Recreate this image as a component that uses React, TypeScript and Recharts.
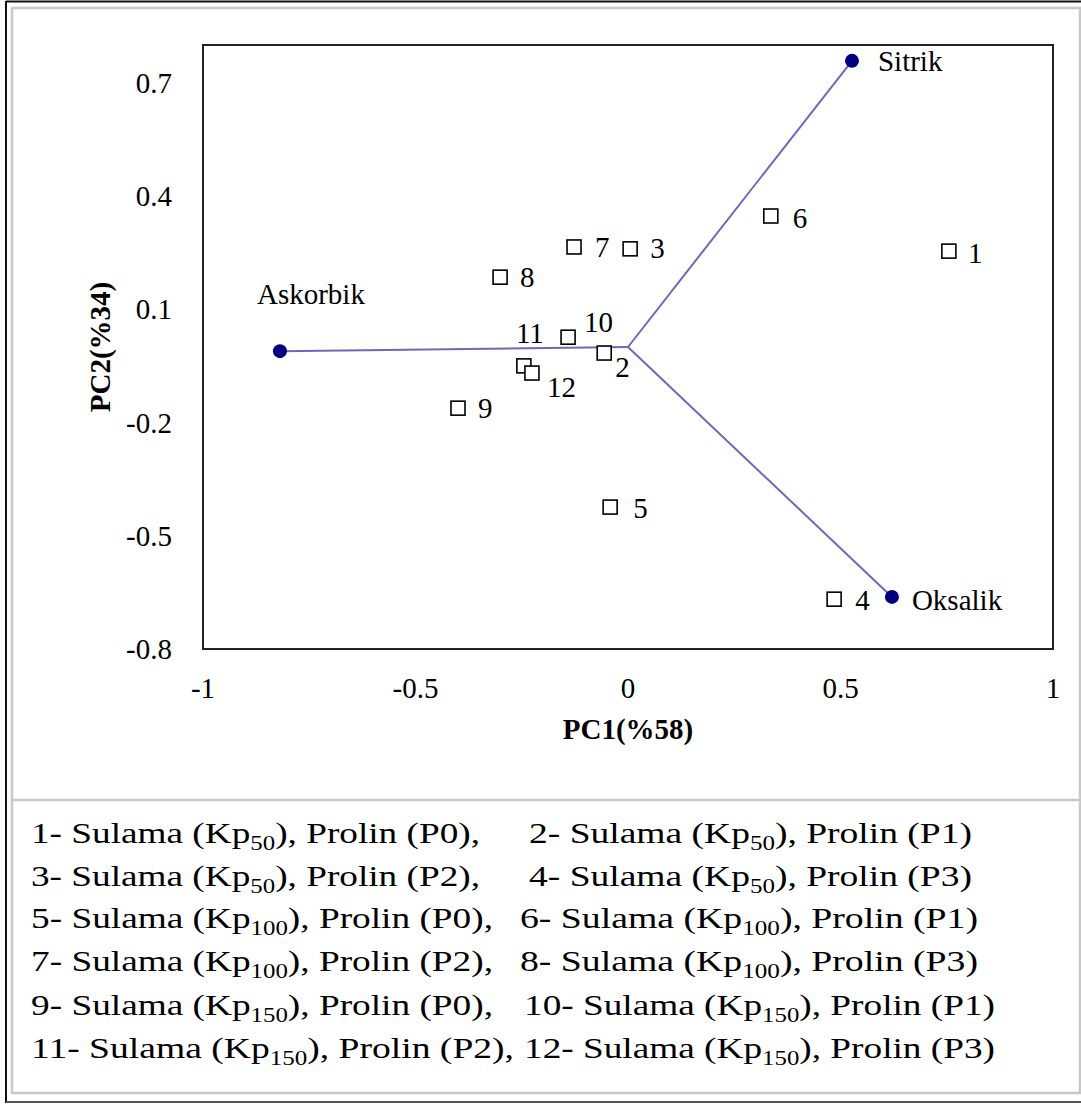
import React from 'react';
import { ScatterChart, Scatter, XAxis, YAxis, ReferenceArea } from 'recharts';

// ---- data ----
const treatmentLabels = ['1', '2', '3', '4', '5', '6', '7', '8', '9', '10', '11', '12'];
const pc1Scores = [0.755, -0.056, 0.005, 0.485, -0.042, 0.336, -0.127, -0.301, -0.4, -0.141, -0.245, -0.226];
const pc2Scores = [0.254, -0.016, 0.26, -0.668, -0.424, 0.347, 0.265, 0.185, -0.162, 0.026, -0.05, -0.069];

const variableNames = ['Sitrik', 'Askorbik', 'Oksalik'];
const variablePC1 = [0.527, -0.819, 0.621];
const variablePC2 = [0.758, -0.011, -0.662];

const xTicks = [-1, -0.5, 0, 0.5, 1];
const yTicks = [-0.8, -0.5, -0.2, 0.1, 0.4, 0.7];

const legendIds = ['1', '2', '3', '4', '5', '6', '7', '8', '9', '10', '11', '12'];
const legendDoses = ['50', '50', '50', '50', '100', '100', '100', '100', '150', '150', '150', '150'];
const legendProlin = ['P0', 'P1', 'P2', 'P3', 'P0', 'P1', 'P2', 'P3', 'P0', 'P1', 'P2', 'P3'];

// ---- derived tables ----
const treatments = treatmentLabels.map((label, i) => ({ label, x: pc1Scores[i], y: pc2Scores[i] }));
const variables = variableNames.map((name, i) => ({ label: name, x: variablePC1[i], y: variablePC2[i] }));

// ---- styling / label placement (relative offsets) ----
const FONT = 'Liberation Serif, Times New Roman, serif';
const TXT: React.CSSProperties = { fontFamily: FONT };
const LINE_COLOR = '#6a6ab8';
const POINT_COLOR = '#00007f';

const treatmentLabelOffset: Record<string, [number, number]> = {
  '1': [19, 2], '2': [11, 14], '3': [20, -1], '4': [21, 1], '5': [23, 1], '6': [22, 2],
  '7': [21, 0], '8': [20, 0], '9': [20, 0], '10': [16, -15], '11': [-8, -33], '12': [15, 14],
};
const variableLabelOffset: Record<string, [number, number, string]> = {
  Sitrik: [26, 0, 'start'],
  Askorbik: [31, -57, 'middle'],
  Oksalik: [20, 3, 'start'],
};

const legendRowBaselines = [843, 886, 928, 971, 1015, 1058];
const legendLeftStart = 31;
const legendLeftEnds = [480, 480, 493, 493, 493, 514];
const legendRightStarts = [529, 529, 520, 520, 524, 524];
const legendRightEnds = [972, 972, 978, 978, 995, 995];

const SquareShape = (props: any) => {
  const { cx, cy, payload } = props;
  if (cx == null || cy == null) return <g />;
  const off = treatmentLabelOffset[payload.label] || [18, 0];
  return (
    <g>
      <rect x={cx - 7} y={cy - 7} width={14} height={14} fill="#fff" stroke="#000" strokeWidth={1.6} />
      <text x={cx + off[0]} y={cy + off[1] + 10} style={TXT} fontSize={29} fill="#000">
        {payload.label}
      </text>
    </g>
  );
};

const CircleShape = (props: any) => {
  const { cx, cy, payload } = props;
  if (cx == null || cy == null) return <g />;
  const off = variableLabelOffset[payload.label] || [20, 0, 'start'];
  return (
    <g>
      <circle cx={cx} cy={cy} r={7} fill={POINT_COLOR} />
      <text x={cx + off[0]} y={cy + off[1] + 10} textAnchor={off[2] as any} style={TXT} fontSize={29} fill="#000">
        {payload.label}
      </text>
    </g>
  );
};

const NoShape = () => <g />;

const XTick = (props: any) => {
  const { x, y, payload } = props;
  return (
    <text x={x} y={y + 21} textAnchor="middle" style={TXT} fontSize={29} fill="#000">
      {String(payload.value)}
    </text>
  );
};

const YTick = (props: any) => {
  const { x, y, payload } = props;
  return (
    <text x={x} y={y + 10} textAnchor="end" style={TXT} fontSize={29} fill="#000">
      {String(payload.value)}
    </text>
  );
};

const XTitle = (props: any) => {
  const vb = props.viewBox || { x: 203, y: 649, width: 850, height: 131 };
  return (
    <text x={vb.x + vb.width / 2} y={vb.y + 90} textAnchor="middle" style={TXT} fontWeight="bold" fontSize={29} fill="#000">
      PC1(%58)
    </text>
  );
};

const YTitle = (props: any) => {
  const vb = props.viewBox || { x: 0, y: 45, width: 203, height: 604 };
  const cx = vb.x + 110;
  const cy = vb.y + vb.height / 2;
  return (
    <text x={cx} y={cy} transform={`rotate(-90, ${cx}, ${cy})`} textAnchor="middle" style={TXT} fontWeight="bold" fontSize={29} fill="#000">
      PC2(%34)
    </text>
  );
};

const LegendLine = ({ idx, x, end, baseline, comma }: { idx: number; x: number; end: number; baseline: number; comma: boolean }) => (
  <text x={x} y={baseline} style={TXT} fontSize={30} fill="#000" textLength={end - x} lengthAdjust="spacingAndGlyphs">
    {`${legendIds[idx]}- Sulama (Kp`}
    <tspan fontSize={20} dy={7}>{legendDoses[idx]}</tspan>
    <tspan dy={-7}>{`), Prolin (${legendProlin[idx]})${comma ? ',' : ''}`}</tspan>
  </text>
);

export default function App() {
  return (
    <div style={{ position: 'absolute', left: 0, top: 0, width: 1081, height: 1104, background: '#fff' }}>
      <svg width={1081} height={1104} style={{ position: 'absolute', left: 0, top: 0 }}>
        <line x1={6} y1={1.5} x2={1081} y2={1.5} stroke="#111" strokeWidth={2} />
        <line x1={6} y1={1} x2={6} y2={1103} stroke="#111" strokeWidth={2} />
        <line x1={6} y1={1102} x2={1081} y2={1102} stroke="#555" strokeWidth={2} />
        <rect x={12} y={8} width={1068} height={1085} fill="none" stroke="#c8c8c8" strokeWidth={2.5} />
        <line x1={12} y1={800} x2={1080} y2={800} stroke="#c8c8c8" strokeWidth={2.5} />
        {legendRowBaselines.map((b, r) => (
          <g key={r}>
            <LegendLine idx={r * 2} x={legendLeftStart} end={legendLeftEnds[r]} baseline={b} comma={true} />
            <LegendLine idx={r * 2 + 1} x={legendRightStarts[r]} end={legendRightEnds[r]} baseline={b} comma={false} />
          </g>
        ))}
      </svg>
      <div style={{ position: 'absolute', left: 0, top: 0 }}>
        <ScatterChart width={1081} height={780} margin={{ top: 45, right: 28, bottom: 0, left: 0 }}>
          <XAxis
            type="number"
            dataKey="x"
            domain={[-1, 1]}
            ticks={xTicks}
            allowDataOverflow
            axisLine={false}
            tickLine={false}
            tickSize={0}
            tickMargin={28}
            height={131}
            tick={<XTick />}
            label={<XTitle />}
          />
          <YAxis
            type="number"
            dataKey="y"
            domain={[-0.8, 0.8]}
            ticks={yTicks}
            allowDataOverflow
            axisLine={false}
            tickLine={false}
            tickSize={0}
            tickMargin={31}
            width={203}
            tick={<YTick />}
            label={<YTitle />}
          />
          <ReferenceArea x1={-1} x2={1} y1={-0.8} y2={0.8} fill="none" stroke="#222" strokeWidth={2} fillOpacity={0} ifOverflow="visible" />
          {variables.map((v) => (
            <Scatter
              key={`line-${v.label}`}
              data={[{ x: 0, y: 0 }, { x: v.x, y: v.y }]}
              line={{ stroke: LINE_COLOR, strokeWidth: 2 }}
              shape={NoShape}
              isAnimationActive={false}
            />
          ))}
          <Scatter data={treatments} shape={SquareShape} isAnimationActive={false} />
          <Scatter data={variables} shape={CircleShape} isAnimationActive={false} />
        </ScatterChart>
      </div>
    </div>
  );
}
